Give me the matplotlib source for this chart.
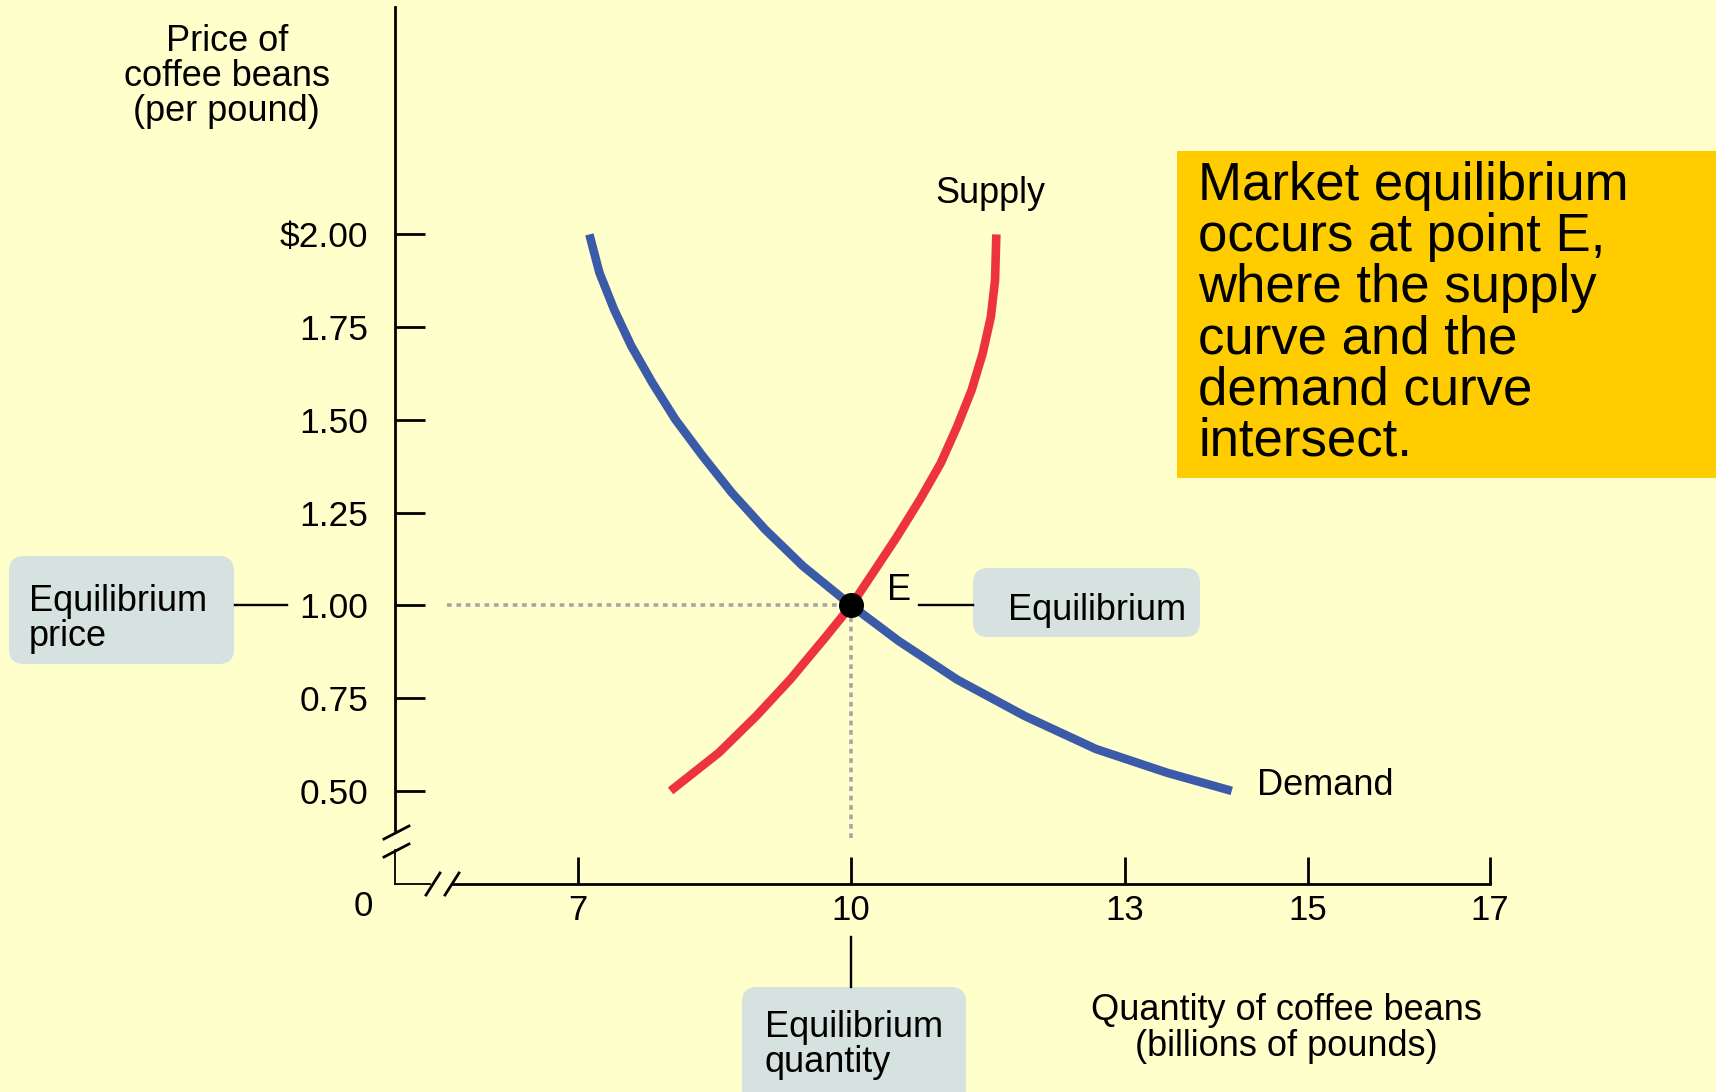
import matplotlib
matplotlib.use("Agg")
import matplotlib.pyplot as plt
from matplotlib.patches import FancyBboxPatch, Rectangle

plt.rcParams["font.family"] = ["Liberation Sans", "DejaVu Sans"]

# data
demand_q = [7.13, 7.24, 7.40, 7.59, 7.82, 8.07, 8.37, 8.69, 9.055, 9.47, 10.0,
            10.52, 11.16, 11.90, 12.68, 13.46, 14.17]
demand_p = [2.00, 1.897, 1.798, 1.699, 1.60, 1.502, 1.403, 1.304, 1.205, 1.106, 1.00,
            0.904, 0.80, 0.702, 0.613, 0.549, 0.50]
supply_q = [8.02, 8.55, 8.96, 9.33, 9.70, 10.0, 10.25, 10.50, 10.75, 10.98, 11.16,
            11.32, 11.44, 11.53, 11.576, 11.59]
supply_p = [0.50, 0.603, 0.702, 0.80, 0.909, 1.00, 1.092, 1.185, 1.284, 1.383, 1.482,
            1.581, 1.679, 1.778, 1.877, 2.00]
eq_q = 10
eq_p = 1.00
x_ticks = [7, 10, 13, 15, 17]
y_ticks = [0.50, 0.75, 1.00, 1.25, 1.50, 1.75, 2.00]
y_tick_labels = ["0.50", "0.75", "1.00", "1.25", "1.50", "1.75", "$2.00"]

W, H = 1716, 1092
BG = "#FFFFCC"
BOX = "#D6E2E0"
BLUE = "#3B5BA9"
RED = "#EE3340"
GRAY = "#A6A6A6"

fig = plt.figure(figsize=(W / 100, H / 100), dpi=100, facecolor=BG)

# main axes: x 5..17 maps to px 395..1490, y 0.249..2.613 maps to px 884..7
ax = fig.add_axes([395 / W, (H - 884) / H, (1490 - 395) / W, (884 - 7) / H])
ax.set_facecolor("none")
ax.set_xlim(5, 17)
ax.set_ylim(0.249, 2.613)

for s in ["top", "right"]:
    ax.spines[s].set_visible(False)
ax.spines["left"].set_linewidth(2)
ax.spines["bottom"].set_linewidth(2)
ax.spines["left"].set_bounds(0.394, 2.613)
ax.spines["bottom"].set_bounds(5.63, 17)

ax.set_xticks(x_ticks)
ax.set_xticklabels([str(t) for t in x_ticks])
ax.set_yticks(y_ticks)
ax.set_yticklabels(y_tick_labels)
ax.tick_params(axis="y", direction="in", length=21.6, width=2, pad=19.4, labelsize=25.5)
ax.tick_params(axis="x", direction="in", length=19.4, width=2, pad=7.5, labelsize=25)

# dotted guides to the equilibrium point
ax.plot([5.57, eq_q], [eq_p, eq_p], color=GRAY, lw=2.6, ls=(0, (1.3, 1.3)), zorder=2)
ax.plot([eq_q, eq_q], [0.372, eq_p], color=GRAY, lw=2.6, ls=(0, (1.3, 1.3)), zorder=2)

ax.plot(demand_q, demand_p, color=BLUE, lw=6.2, solid_capstyle="butt",
        solid_joinstyle="round", zorder=3)
ax.plot(supply_q, supply_p, color=RED, lw=6.2, solid_capstyle="butt",
        solid_joinstyle="round", zorder=3)
ax.plot([eq_q], [eq_p], "o", color="black", ms=17, zorder=5)

# overlay in pixel coordinates for annotations
ov = fig.add_axes([0, 0, 1, 1])
ov.set_xlim(0, W)
ov.set_ylim(H, 0)
ov.axis("off")
ov.set_facecolor("none")

# axis breaks
ov.plot([395, 395], [850, 884], color="black", lw=1.3)
ov.plot([395, 430], [884, 884], color="black", lw=1.3)
for y0 in (839, 857):
    ov.plot([384, 409], [y0, y0 - 13], color="black", lw=2)
for x0 in (426, 445):
    ov.plot([x0, x0 + 14], [895, 873], color="black", lw=2)
ov.text(363.7, 906, "0", fontsize=25, ha="center", va="center")

FS = 26

# y axis title
for txt, yb in [("Price of", 50.7), ("coffee beans", 86), ("(per pound)", 121)]:
    ov.text(226.7, yb, txt, fontsize=FS, ha="center", va="baseline")

# x axis title
for txt, yb in [("Quantity of coffee beans", 1020), ("(billions of pounds)", 1056.5)]:
    ov.text(1286, yb, txt, fontsize=FS, ha="center", va="baseline")

ov.text(935, 202.7, "Supply", fontsize=FS, ha="left", va="baseline")
ov.text(1257, 795, "Demand", fontsize=FS, ha="left", va="baseline")
ov.text(887, 600, "E", fontsize=FS, ha="left", va="baseline")


def label_box(x0, y0, x1, y1):
    ov.add_patch(FancyBboxPatch((x0, y0), x1 - x0, y1 - y0,
                                boxstyle="round,pad=0,rounding_size=15",
                                facecolor=BOX, edgecolor="none"))


# equilibrium point label
ov.plot([919, 973], [605, 605], color="black", lw=1.7)
label_box(973, 568, 1200, 637)
ov.text(1008, 620, "Equilibrium", fontsize=FS, ha="left", va="baseline")

# equilibrium price label
ov.plot([235, 287], [605, 605], color="black", lw=1.7)
label_box(9, 556, 234, 664)
ov.text(29, 610.7, "Equilibrium", fontsize=FS, ha="left", va="baseline")
ov.text(29, 646, "price", fontsize=FS, ha="left", va="baseline")

# equilibrium quantity label
ov.plot([851, 851], [937, 987], color="black", lw=1.7)
label_box(742, 987, 966, 1110)
ov.text(765, 1036.7, "Equilibrium", fontsize=FS, ha="left", va="baseline")
ov.text(765, 1071.7, "quantity", fontsize=FS, ha="left", va="baseline")

# explanation box
ov.add_patch(Rectangle((1177, 151), W - 1177 + 5, 478 - 151, facecolor="#FFCC00", edgecolor="none"))
lines = ["Market equilibrium", "occurs at point E,", "where the supply",
         "curve and the", "demand curve", "intersect."]
for i, txt in enumerate(lines):
    ov.text(1198, 200 + i * 51.2, txt, fontsize=38, ha="left", va="baseline")

fig.savefig("out.png", dpi=100, facecolor=BG)
